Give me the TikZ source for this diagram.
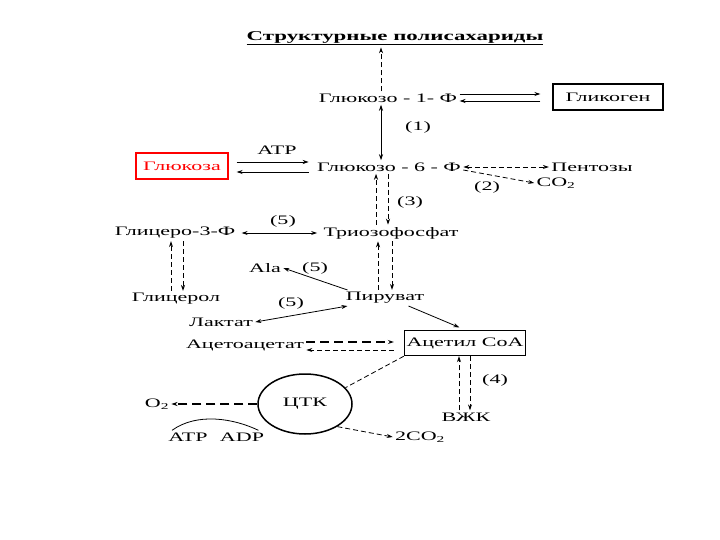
\documentclass[tikz,border=0pt]{standalone}
\usepackage{fontspec}
\setmainfont{Liberation Serif}[FakeStretch=1.7]
\usetikzlibrary{arrows.meta, positioning, calc, shapes.geometric}

\begin{document}
\begin{tikzpicture}[x=1bp, y=-1bp, line width=0.8bp,
    every node/.style={font=\fontsize{13}{15}\selectfont, inner sep=2bp},
    arr/.style={-{Stealth[length=6bp,width=4bp]}},
    barr/.style={{Stealth[length=6bp,width=4bp]}-{Stealth[length=6bp,width=4bp]}},
    dline/.style={dash pattern=on 5bp off 3bp},
    bigdash/.style={dash pattern=on 9bp off 5bp, line width=1.3bp},
    box/.style={draw, line width=1.4bp, minimum height=26bp}]
    \useasboundingbox (0,0) rectangle (720,540);
    % nodes
    \node (title) at (395,38) {\fontsize{13.5}{16}\selectfont\underline{\textbf{Структурные полисахариды}}};
    \node (g1f) at (388,98) {Глюкозо - 1- Ф};
    \node[box, minimum width=110bp] (glycogen) at (608,97) {Гликоген};
    \node (one) at (418,127) {(1)};
    \node[box, draw=red, text=red, minimum width=92bp] (glucose) at (182,166) {Глюкоза};
    \node (atpa) at (277,150) {ATP};
    \node (g6f) at (389,167) {Глюкозо - 6 - Ф};
    \node (pent) at (592,167) {Пентозы};
    \node (co2a) at (556,183) {CO\textsubscript{2}};
    \node (two) at (487,187) {(2)};
    \node (three) at (410,202) {(3)};
    \node (trio) at (391,233) {Триозофосфат};
    \node (glyc3f) at (175,233) {Глицеро-3-Ф};
    \node (fivea) at (283,221) {(5)};
    \node (glycerol) at (176,299) {Глицерол};
    \node (pyr) at (385,298) {Пируват};
    \node (ala) at (265,268) {Ala};
    \node (fiveb) at (315,268) {(5)};
    \node (fivec) at (291,303) {(5)};
    \node (lactate) at (221,322) {Лактат};
    \node[box, minimum width=115bp, minimum height=25bp] (acoa) at (465,343) {Ацетил CoA};
    \node (acac) at (245,345) {Ацетоацетат};
    \node (four) at (495,380) {(4)};
    \node (vzhk) at (466,417) {ВЖК};
    \node[draw, ellipse, line width=1.5bp, minimum width=94bp, minimum height=60bp] (tca) at (305,404) {ЦТК};
    \node (otwo) at (157,404) {O\textsubscript{2}};
    \node (atpb) at (188,437) {ATP};
    \node (adp) at (242,437) {ADP};
    \node (co2b) at (420,437) {2CO\textsubscript{2}};
    % connectors
    \draw[arr, dline] ([xshift=-7bp]g1f.north) -- ([xshift=-7bp]g1f.north |- title.south);
    \draw[arr, shorten >=12bp] ([yshift=4bp]g1f.east) -- ([yshift=4bp]g1f.east -| glycogen.west);
    \draw[arr, shorten <=12bp] ([yshift=-3bp]g1f.east -| glycogen.west) -- ([yshift=-3bp]g1f.east);
    \draw[barr] ([xshift=-7bp]g1f.south) -- ([xshift=-7bp]g1f.south |- g6f.north);
    \draw[arr, shorten <=8bp, shorten >=6bp] ([yshift=4bp]glucose.east) -- ([yshift=4bp]glucose.east -| g6f.west);
    \draw[arr, shorten <=6bp, shorten >=8bp] ([yshift=-6bp]glucose.east -| g6f.west) -- ([yshift=-6bp]glucose.east);
    \draw[barr, dline] (g6f.east) -- (g6f.east -| pent.west);
    \draw[arr, dline] ([yshift=-3bp]g6f.east) -- (co2a.west);
    \draw[arr, dline] ([xshift=-15bp]trio.north) -- ([xshift=-15bp]trio.north |- g6f.south);
    \draw[arr, dline] ([xshift=-1bp]g6f.south) -- ([xshift=-1bp]g6f.south |- trio.north);
    \draw[barr, shorten <=4bp, shorten >=4bp] (glyc3f.east) -- (trio.west);
    \draw[arr, dline] ([xshift=-5bp]glycerol.north) -- ([xshift=-5bp]glycerol.north |- glyc3f.south);
    \draw[arr, dline] ([xshift=8bp]glyc3f.south) -- ([xshift=8bp]glyc3f.south |- glycerol.north);
    \draw[arr, dline] ([xshift=-7bp]pyr.north) -- ([xshift=-7bp]pyr.north |- trio.south);
    \draw[arr, dline] ([xshift=7bp]pyr.north |- trio.south) -- ([xshift=7bp]pyr.north);
    \draw[arr] ([xshift=4bp]pyr.north west) -- (ala.east);
    \draw[barr] (lactate.east) -- ([xshift=4bp]pyr.south west);
    \draw[arr, shorten >=6bp] ([xshift=-18bp]pyr.south east) -- (acoa.north);
    \draw[arr, bigdash, shorten >=10bp] ([yshift=3bp]acac.east) -- ([yshift=3bp]acac.east -| acoa.west);
    \draw[arr, dline, shorten <=10bp] ([yshift=-5bp]acac.east -| acoa.west) -- ([yshift=-5bp]acac.east);
    \draw[dline] (acoa.south west) -- (tca.22);
    \draw[arr, dline] ([xshift=-7bp]vzhk.north) -- ([xshift=-7bp]vzhk.north |- acoa.south);
    \draw[arr, dline] ([xshift=5bp]acoa.south) -- ([xshift=5bp]acoa.south |- vzhk.north);
    \draw[arr, bigdash] (tca.west) -- (otwo.east);
    \draw[arr, dline] (tca.-35) -- (co2b.west);
    \draw ([xshift=6bp]atpb.north west) .. controls +(25,-18) and +(-25,-12) .. ([xshift=-8bp]adp.north east);
\end{tikzpicture}
\end{document}
